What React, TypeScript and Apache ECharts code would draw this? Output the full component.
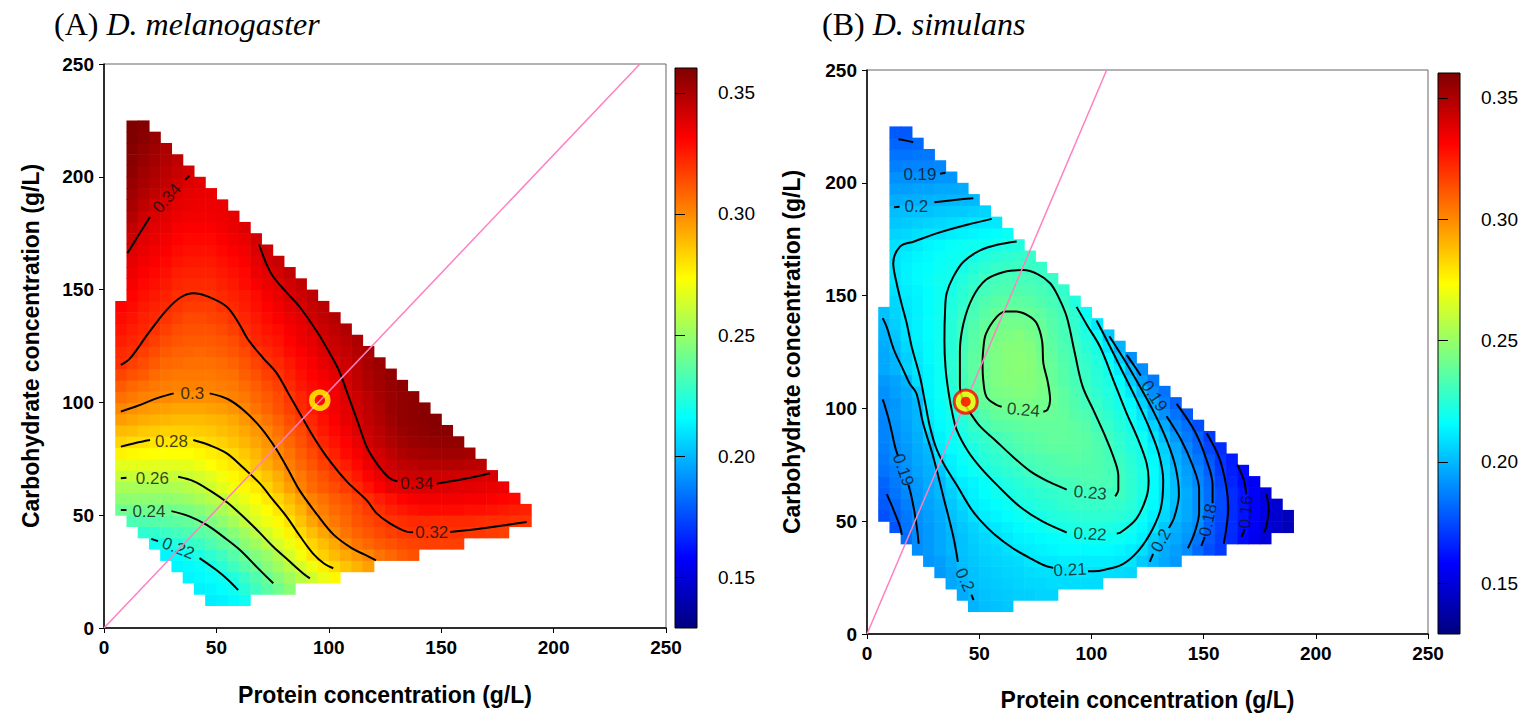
import React, { useEffect, useRef } from "react";
import * as echarts from "echarts";

// ---------------- data ----------------
// Both surfaces sampled every 5 g/L over the diet hull; values in thousandths (0.001 units)
const carbLevels = [12.5, 17.5, 22.5, 27.5, 32.5, 37.5, 42.5, 47.5, 52.5, 57.5, 62.5, 67.5, 72.5, 77.5, 82.5, 87.5, 92.5, 97.5, 102.5, 107.5, 112.5, 117.5, 122.5, 127.5, 132.5, 137.5, 142.5, 147.5, 152.5, 157.5, 162.5, 167.5, 172.5, 177.5, 182.5, 187.5, 192.5, 197.5, 202.5, 207.5, 212.5, 217.5, 222.5];
const rowFirstProtein = [47.5, 42.5, 37.5, 32.5, 27.5, 22.5, 17.5, 12.5, 7.5, 7.5, 7.5, 7.5, 7.5, 7.5, 7.5, 7.5, 7.5, 7.5, 7.5, 7.5, 7.5, 7.5, 7.5, 7.5, 7.5, 7.5, 7.5, 12.5, 12.5, 12.5, 12.5, 12.5, 12.5, 12.5, 12.5, 12.5, 12.5, 12.5, 12.5, 12.5, 12.5, 12.5, 12.5];
const proteinStep = 5;

const surfaceA = [
  [212, 213, 215, 219],
  [213, 214, 216, 219, 224, 230, 236, 241, 247],
  [214, 215, 217, 219, 223, 228, 234, 240, 246, 252, 258, 263, 269, 275],
  [214, 215, 217, 220, 225, 230, 235, 240, 246, 252, 258, 264, 270, 277, 282, 287, 291, 295],
  [214, 216, 219, 222, 226, 230, 235, 240, 245, 250, 256, 264, 271, 279, 284, 289, 293, 297, 301, 305, 308, 311, 313],
  [219, 220, 223, 226, 229, 233, 237, 240, 247, 252, 258, 264, 270, 276, 283, 288, 293, 300, 305, 308, 311, 313, 315, 316, 317, 317, 317, 317],
  [226, 227, 229, 231, 233, 236, 238, 242, 247, 252, 258, 264, 270, 276, 282, 288, 294, 300, 305, 309, 312, 315, 317, 319, 320, 320, 320, 320, 320, 319, 319, 318, 317],
  [233, 234, 235, 236, 237, 238, 240, 244, 248, 253, 259, 265, 270, 275, 280, 287, 294, 300, 304, 308, 312, 315, 318, 320, 321, 322, 322, 322, 322, 322, 322, 321, 321, 321, 320, 320],
  [240, 241, 241, 241, 241, 242, 243, 246, 250, 254, 259, 264, 269, 274, 279, 285, 291, 299, 303, 307, 310, 314, 318, 321, 324, 326, 328, 329, 329, 329, 329, 328, 328, 327, 326, 325, 324],
  [248, 248, 248, 248, 248, 249, 251, 254, 257, 260, 265, 269, 274, 278, 283, 289, 295, 302, 306, 310, 313, 317, 321, 325, 328, 331, 333, 334, 334, 334, 334, 333, 333, 332, 331, 330],
  [254, 254, 254, 254, 254, 255, 257, 259, 263, 267, 271, 275, 278, 283, 289, 295, 302, 307, 311, 314, 318, 322, 327, 332, 337, 338, 339, 339, 339, 339, 338, 338, 337, 336, 335],
  [261, 261, 261, 261, 261, 261, 262, 264, 267, 271, 275, 278, 282, 287, 292, 299, 304, 309, 313, 317, 321, 326, 331, 336, 340, 342, 343, 343, 343, 342, 342, 341, 340, 340],
  [267, 268, 268, 267, 267, 267, 268, 270, 273, 276, 279, 282, 287, 292, 297, 303, 308, 312, 317, 321, 325, 330, 335, 340, 343, 346, 347, 348, 348, 348, 348, 347, 347],
  [276, 275, 274, 273, 273, 273, 273, 275, 277, 279, 282, 286, 290, 295, 300, 305, 310, 315, 320, 324, 329, 333, 338, 342, 346, 349, 351, 352, 353, 353, 353, 352],
  [283, 281, 280, 279, 279, 279, 279, 280, 282, 284, 287, 290, 294, 298, 303, 308, 313, 318, 323, 327, 331, 336, 341, 345, 349, 352, 354, 355, 356, 356, 356],
  [289, 288, 286, 285, 284, 284, 284, 285, 286, 288, 290, 293, 297, 301, 306, 311, 315, 321, 326, 330, 334, 339, 343, 347, 351, 354, 356, 357, 358, 358],
  [296, 294, 292, 291, 290, 289, 289, 289, 290, 291, 293, 297, 301, 305, 309, 314, 319, 323, 328, 332, 337, 340, 345, 349, 353, 356, 357, 358, 359],
  [301, 299, 297, 296, 295, 294, 294, 294, 295, 296, 298, 301, 305, 309, 313, 317, 322, 326, 330, 334, 338, 342, 346, 350, 354, 356, 357, 358],
  [306, 304, 302, 301, 300, 299, 299, 299, 299, 300, 302, 304, 308, 311, 314, 319, 323, 327, 330, 334, 339, 343, 347, 351, 354, 356, 357],
  [311, 308, 306, 304, 303, 302, 302, 302, 302, 303, 304, 307, 310, 314, 317, 322, 326, 329, 332, 335, 341, 345, 349, 352, 355, 357],
  [316, 313, 311, 307, 305, 304, 304, 304, 304, 305, 306, 310, 313, 317, 320, 324, 328, 331, 334, 338, 342, 346, 350, 353, 356],
  [321, 317, 314, 311, 308, 307, 306, 306, 306, 307, 309, 312, 316, 320, 322, 326, 330, 333, 337, 340, 343, 347, 351, 354],
  [322, 321, 317, 314, 311, 309, 309, 308, 309, 310, 312, 315, 319, 322, 325, 329, 332, 335, 339, 342, 345, 348, 352],
  [325, 323, 321, 317, 314, 312, 311, 311, 311, 312, 314, 318, 323, 325, 327, 331, 335, 337, 341, 344, 347, 350],
  [327, 325, 323, 320, 317, 314, 313, 313, 313, 315, 317, 321, 324, 327, 329, 333, 336, 339, 343, 346, 349],
  [329, 327, 324, 322, 320, 317, 315, 315, 316, 317, 320, 323, 326, 329, 332, 335, 338, 342, 345, 348],
  [331, 329, 326, 324, 322, 320, 318, 318, 318, 320, 322, 325, 328, 331, 334, 338, 340, 344, 347],
  [331, 328, 326, 324, 321, 320, 320, 320, 322, 324, 326, 329, 333, 336, 340, 343, 346],
  [333, 330, 328, 326, 323, 322, 322, 322, 324, 326, 329, 332, 336, 338, 342, 345],
  [335, 332, 330, 328, 325, 324, 324, 324, 326, 328, 330, 335, 338, 341, 345],
  [337, 334, 332, 330, 327, 326, 326, 326, 328, 330, 332, 337, 341, 344],
  [339, 336, 334, 332, 329, 328, 328, 328, 330, 332, 334, 339, 343],
  [342, 338, 336, 334, 331, 330, 330, 330, 332, 334, 336, 341],
  [345, 340, 338, 336, 333, 332, 332, 332, 334, 336, 339],
  [348, 343, 340, 338, 335, 334, 334, 334, 335, 337],
  [351, 346, 342, 340, 337, 336, 335, 335, 336],
  [353, 349, 345, 342, 339, 337, 336, 336],
  [355, 351, 348, 345, 342, 339, 338],
  [357, 353, 350, 347, 344, 341],
  [358, 355, 352, 349, 346],
  [359, 356, 353, 350],
  [360, 358, 355],
  [360, 359],
];

const surfaceB = [
  [199, 201, 202, 203],
  [197, 200, 202, 203, 204, 205, 205, 206, 206],
  [196, 199, 202, 203, 204, 205, 206, 207, 207, 208, 208, 208, 208, 208],
  [193, 196, 200, 202, 204, 205, 206, 207, 208, 209, 209, 209, 210, 210, 209, 209, 208, 207],
  [192, 194, 198, 201, 203, 205, 206, 207, 208, 210, 211, 211, 212, 212, 212, 212, 212, 211, 210, 204, 200, 196, 193],
  [190, 193, 196, 199, 202, 204, 206, 207, 209, 211, 212, 213, 214, 215, 215, 215, 215, 215, 214, 212, 209, 202, 197, 194, 190, 182, 176, 171],
  [183, 190, 193, 196, 199, 202, 205, 207, 209, 211, 213, 214, 215, 216, 217, 218, 219, 219, 219, 218, 216, 213, 205, 199, 196, 192, 185, 178, 172, 167, 160, 154, 149],
  [177, 184, 190, 193, 196, 200, 203, 206, 209, 211, 213, 215, 217, 218, 220, 221, 222, 223, 223, 222, 221, 219, 215, 210, 203, 198, 194, 190, 179, 173, 168, 161, 156, 150, 146, 142],
  [176, 180, 185, 191, 194, 197, 202, 205, 209, 212, 214, 216, 218, 220, 221, 223, 224, 225, 226, 226, 226, 225, 223, 218, 213, 207, 200, 196, 191, 181, 174, 168, 162, 157, 152, 147, 143],
  [178, 182, 187, 192, 195, 198, 203, 207, 212, 214, 216, 218, 221, 222, 224, 225, 227, 228, 228, 228, 228, 227, 225, 221, 215, 209, 201, 196, 191, 183, 175, 168, 162, 158, 152, 148],
  [179, 184, 189, 192, 196, 200, 205, 210, 213, 216, 219, 221, 223, 224, 226, 227, 228, 229, 230, 230, 230, 230, 226, 222, 216, 208, 202, 197, 191, 183, 175, 168, 162, 157, 151],
  [181, 186, 190, 193, 197, 200, 207, 212, 214, 217, 220, 223, 225, 227, 228, 230, 231, 232, 233, 233, 232, 230, 226, 222, 216, 209, 201, 195, 189, 182, 173, 166, 160, 156],
  [184, 187, 191, 195, 198, 203, 212, 215, 218, 221, 224, 226, 228, 230, 232, 233, 234, 234, 234, 234, 232, 230, 226, 222, 216, 208, 200, 194, 188, 180, 171, 165, 160],
  [186, 189, 192, 196, 199, 208, 213, 217, 220, 224, 226, 228, 231, 232, 233, 234, 235, 236, 235, 234, 232, 229, 225, 221, 215, 207, 198, 192, 185, 178, 170, 164],
  [187, 190, 193, 197, 200, 212, 216, 219, 222, 226, 228, 231, 233, 235, 236, 237, 237, 237, 236, 234, 231, 227, 223, 220, 213, 205, 196, 189, 182, 174, 168],
  [188, 191, 194, 198, 204, 213, 217, 221, 225, 228, 231, 233, 235, 236, 237, 238, 238, 237, 236, 233, 230, 226, 222, 218, 210, 201, 193, 186, 180, 171],
  [188, 192, 195, 199, 210, 215, 218, 223, 228, 232, 235, 236, 237, 238, 238, 238, 238, 237, 235, 231, 228, 224, 220, 214, 206, 197, 188, 183, 176],
  [189, 193, 196, 199, 212, 216, 220, 226, 231, 235, 238, 239, 240, 240, 240, 239, 238, 235, 233, 230, 226, 222, 218, 211, 200, 191, 184, 178],
  [190, 192, 196, 200, 213, 217, 221, 229, 234, 238, 241, 242, 243, 243, 242, 240, 237, 234, 231, 228, 224, 220, 215, 206, 196, 187, 180],
  [191, 194, 197, 203, 214, 218, 223, 231, 236, 240, 243, 244, 245, 245, 243, 240, 237, 233, 230, 226, 223, 219, 211, 201, 190, 184],
  [193, 195, 199, 208, 214, 218, 225, 231, 236, 241, 244, 246, 246, 246, 244, 239, 235, 232, 229, 225, 222, 216, 205, 194, 186],
  [196, 199, 206, 210, 214, 218, 225, 232, 237, 241, 244, 246, 247, 246, 243, 239, 235, 231, 228, 224, 220, 212, 200, 190],
  [196, 199, 205, 211, 215, 219, 225, 232, 237, 241, 244, 246, 247, 246, 242, 238, 234, 231, 227, 223, 216, 205, 191],
  [197, 201, 207, 212, 215, 219, 224, 231, 236, 240, 244, 246, 246, 245, 241, 237, 233, 230, 225, 221, 211, 199],
  [199, 203, 209, 213, 216, 219, 224, 230, 235, 240, 243, 244, 245, 243, 240, 236, 232, 228, 223, 218, 204],
  [200, 205, 210, 213, 216, 219, 224, 230, 234, 238, 241, 242, 242, 241, 239, 235, 232, 227, 221, 211],
  [202, 206, 210, 213, 216, 219, 223, 228, 232, 236, 239, 240, 240, 239, 237, 234, 231, 226, 217],
  [207, 211, 213, 216, 219, 222, 226, 231, 234, 236, 237, 237, 236, 234, 232, 229, 223],
  [209, 212, 214, 216, 219, 221, 225, 228, 231, 233, 234, 234, 233, 232, 230, 227],
  [210, 213, 215, 217, 219, 220, 223, 226, 230, 231, 232, 232, 231, 230, 228],
  [210, 213, 215, 216, 218, 219, 220, 224, 226, 228, 229, 230, 229, 228],
  [210, 212, 214, 215, 217, 218, 219, 220, 223, 225, 226, 227, 228],
  [209, 210, 212, 214, 215, 217, 218, 219, 219, 220, 222, 223],
  [206, 207, 209, 210, 210, 212, 213, 214, 215, 216, 218],
  [203, 204, 205, 206, 207, 208, 209, 210, 211, 211],
  [201, 201, 202, 202, 203, 204, 204, 205, 206],
  [197, 198, 198, 199, 199, 200, 200, 200],
  [194, 194, 195, 195, 196, 196, 197],
  [191, 191, 191, 191, 192, 192],
  [187, 188, 188, 188, 189],
  [184, 184, 185, 185],
  [181, 181, 182],
  [178, 178],
];

// contour polylines (each contour = list of segments, gaps hold labels)
const contoursA = [
  [[[21, 39.5], [24, 38.5]], [[42.5, 31], [50, 25.7], [55, 21.5], [59.7, 16.8]]],
  [[[7.5, 52.3], [10, 52.3]], [[30, 51.8], [38, 49.5], [45.7, 45.7], [53, 40.5], [60.5, 34.6], [68, 27], [75.3, 19.8]]],
  [[[7.5, 66.4], [10, 66.6]], [[33, 67], [40, 65], [47, 61], [55, 55.5], [62, 49.3], [69, 42.5], [75.3, 36], [82, 30], [88.6, 24.2], [91.6, 22]]],
  [[[7.5, 80.4], [14, 82], [20.5, 83.3]], [[39.7, 83.3], [47, 81], [54.6, 77.4], [62, 71], [69.4, 64], [75, 57], [81.3, 49.3], [87, 41], [93, 33], [98, 28.5], [102, 26.5]]],
  [[[7.5, 95.9], [15, 98.5], [24, 102], [31, 104]], [[47, 104], [55, 101.5], [62, 96.6], [70, 88.5], [76.8, 79], [82, 70], [87, 61], [95, 50], [102, 41.5], [110, 35.5], [116, 32.5], [121, 30]]],
  [[[7.5, 116.6], [11.6, 119.5], [20, 131], [27.9, 141], [34, 146.5], [39.7, 148.4], [46, 147], [54.6, 142.4], [60, 135], [64, 128], [70.9, 119.5], [76.8, 113], [82, 104], [87.2, 95], [93, 85], [99, 76], [108, 65], [116.8, 56.7], [121.3, 50.8], [127, 46.5], [134.6, 42.7], [137.5, 42.4]], [[154, 42.6], [167, 44], [179, 45.7], [188, 47]]],
  [[[10.4, 166.1], [15, 173.5], [20.5, 182.3]], [[36, 198.6], [38, 200.5]]],
  [[[69, 170], [72, 162], [75.3, 155.7], [81, 149], [87, 142.4], [95, 131], [102, 119], [105, 113], [109, 102], [113, 91], [117, 80], [122, 72], [127, 66.5], [130.5, 65]], [[148, 64], [160, 66], [171.7, 68.6]]],
];
const labelTextA = ["0.34", "0.3", "0.28", "0.26", "0.24", "0.22", "0.34", "0.32"];
const labelPosA = [[28, 190.5], [39.3, 103.8], [30, 82.6], [21.5, 66.4], [20, 51.5], [33, 35.3], [139.2, 64], [145.8, 42.4]];
const labelAngleA = [48, 0, 0, 0, 0, -22, 0, 0];

const contoursB = [
  // 0.24
  [[[60, 100.7], [57.8, 101.5], [53.3, 105], [51.8, 112.6], [51.5, 120], [51.8, 126], [53, 133], [57.8, 140.6], [62, 143], [66.7, 142.9], [72, 141], [75.6, 137.7], [78, 130], [78.6, 120], [80.5, 112], [81.6, 103.7], [80.5, 99.5], [78.6, 98.5]]],
  // 0.23
  [[[110.6, 61], [112, 64], [112, 70], [110, 78], [106, 88], [101, 99], [96, 110], [92.5, 125], [89, 140.6], [85, 150], [81.6, 155.5], [76, 159.5], [69.7, 161.3], [61, 160.5], [53, 157], [47, 149], [43, 137.7], [41.4, 125], [41.4, 110], [43, 103], [46, 98], [50.4, 92], [57, 86], [65, 78.6], [73, 72], [81, 67.5], [89, 64]]],
  // 0.22
  [[[66.7, 174], [58, 172.5], [50.4, 170], [43, 165], [38.5, 158.4], [35.5, 151], [34.8, 143.6], [34.5, 130], [35, 118], [36.2, 108], [38, 98], [40, 90.4], [45, 81], [50.4, 74], [58, 66], [68.2, 56.4], [78, 50], [89, 45]],
   [[111.3, 44.6], [113, 45], [120, 51], [124.6, 60.9], [125.5, 68], [124.6, 75.7], [120.5, 87], [115.7, 97.8], [110, 112], [104, 127], [98, 137], [93.4, 145]]],
  // 0.21
  [[[55.6, 184], [45, 181.5], [31, 177.6], [21, 174], [14.7, 171.7], [11.7, 164.3], [13.2, 155.5], [15.5, 146], [17.7, 137.7], [20, 127], [23.6, 114], [26, 102], [28, 92], [31, 82], [35, 74], [40, 66], [46, 56], [50.4, 50.5], [57, 44], [65, 38], [72, 34], [78.6, 30.6], [83, 29.3]],
   [[98.5, 27.8], [101, 27.8], [106, 28.5], [114, 31], [121, 37], [127, 46], [131, 56], [132, 68], [130, 80], [125.5, 92], [120, 104], [114, 116], [108, 128], [102.3, 139]]],
  // 0.2
  [[[12, 189.2], [14.5, 189.4]], [[30, 191.4], [40, 192.5], [47.4, 193.2]],
   [[7, 140], [8.8, 136], [12, 126], [16.2, 117], [19, 111], [22, 106.7], [25, 93.4], [29.5, 78.6], [34, 61], [38.5, 43], [40.5, 32]], [[46.5, 17.5], [47.5, 15]],
   [[108, 132], [115, 121], [122, 109], [128, 98], [133.5, 86], [137.5, 74], [139, 62], [137, 52], [134.5, 47]], [[127.5, 35.5], [126, 32]]],
  // 0.19
  [[[32.5, 204], [35, 204.5]],
   [[7, 104], [8, 101], [10, 94], [12.5, 83], [13.8, 79]], [[18.5, 66], [20, 60], [21.5, 52], [22.5, 45], [23, 40]],
   [[115.7, 123.7], [119, 119], [122, 114.5]], [[133.5, 96.5], [140, 86], [145, 75], [148, 64], [148, 54], [146, 45], [143, 38]]],
  // 0.18
  [[[14, 219.3], [17, 218.8], [20.6, 218]], [[8.8, 62], [11, 57], [13, 52], [14.7, 47.6], [15.5, 44]],
   [[138, 102], [146, 90], [151, 78], [154, 66], [154, 58]], [[150.5, 43], [149, 39]]],
  // 0.17
  [[[151.4, 89], [157, 78], [160, 66], [161, 56], [160, 46], [159, 40]]],
  // 0.16
  [[[165, 75], [168, 68], [169, 62]], [[168.3, 46.5], [167, 43]]],
  // 0.15
  [[[178, 62], [179, 55], [178, 48], [177, 45]]],
];
const labelTextB = ["0.19", "0.2", "0.24", "0.23", "0.22", "0.21", "0.19", "0.2", "0.19", "0.2", "0.18", "0.16"];
const labelPosB = [[23.6, 203.5], [22, 189.6], [69.7, 99.3], [99.5, 62.5], [99.4, 44.3], [90.5, 28.4], [16.2, 72.7], [43.5, 24], [128, 105.5], [131, 41.5], [152, 50.5], [169, 54]];
const labelAngleB = [0, 0, -5, -5, -3, 3, -70, -65, -57, 62, 78, 85];

const optimumA = [96, 101];
const optimumB = [44, 103];
const railA = [[0, 0], [238.4, 250]];
const railB = [[0, 0], [106.8, 250]];

const colorTicks = [0.15, 0.2, 0.25, 0.3, 0.35];
const colorMin = 0.129;
const colorMax = 0.3603;
const jet = ["#00007f", "#0000ff", "#007fff", "#00ffff", "#7fff7f", "#ffff00", "#ff7f00", "#ff0000", "#7f0000"];

// ---------------- helpers ----------------
function cells(surface: number[][]) {
  const out: number[][] = [];
  surface.forEach((row, i) => {
    row.forEach((v, k) => out.push([rowFirstProtein[i] + k * proteinStep, carbLevels[i], v / 1000]));
  });
  return out;
}

const SANS = "Arial, 'Liberation Sans', Helvetica, sans-serif";
const SERIF = "'Times New Roman', 'Liberation Serif', serif";

function panelSeries(g: number, surface: number[][], contours: number[][][][], texts: string[], pos: number[][], ang: number[], rail: number[][], opt: number[], ringB: boolean) {
  const s: any[] = [];
  const half = proteinStep / 2;
  s.push({
    type: "custom",
    xAxisIndex: g,
    yAxisIndex: g,
    silent: true,
    z: 1,
    clip: true,
    encode: { x: 0, y: 1 },
    data: cells(surface),
    renderItem: (params: any, api: any) => {
      const p = api.coord([api.value(0) - half, api.value(1) + half]);
      const sz = api.size([proteinStep, proteinStep]);
      return {
        type: "rect",
        shape: { x: p[0], y: p[1], width: sz[0] + 0.6, height: sz[1] + 0.6 },
        style: { fill: api.visual("color") },
      };
    },
  });
  contours.forEach((c) =>
    c.forEach((seg) =>
      s.push({
        type: "line",
        xAxisIndex: g,
        yAxisIndex: g,
        data: seg,
        smooth: 0.35,
        symbol: "none",
        silent: true,
        z: 3,
        lineStyle: { color: "#000", width: 2 },
      })
    )
  );
  s.push({
    type: "scatter",
    xAxisIndex: g,
    yAxisIndex: g,
    silent: true,
    z: 4,
    symbolSize: 1,
    itemStyle: { color: "rgba(0,0,0,0)" },
    data: texts.map((t, i) => ({ name: t, value: pos[i], label: { rotate: ang[i] } })),
    label: {
      show: true,
      position: "inside",
      formatter: (p: any) => p.name,
      fontSize: 17,
      color: "#111",
      fontFamily: SANS,
    },
  });
  s.push({
    type: "line",
    xAxisIndex: g,
    yAxisIndex: g,
    data: rail,
    symbol: "none",
    silent: true,
    z: 5,
    lineStyle: { color: "#ff80c0", width: 1.5 },
  });
  if (ringB) {
    s.push({
      type: "scatter", xAxisIndex: g, yAxisIndex: g, silent: true, z: 6, data: [opt], symbolSize: 23,
      itemStyle: { color: "#ffff00", borderColor: "#ff0000", borderWidth: 3 },
    });
    s.push({
      type: "scatter", xAxisIndex: g, yAxisIndex: g, silent: true, z: 7, data: [opt], symbolSize: 10,
      itemStyle: { color: "#ff0000" },
    });
  } else {
    s.push({
      type: "scatter", xAxisIndex: g, yAxisIndex: g, silent: true, z: 6, data: [opt], symbolSize: 16,
      itemStyle: { color: "rgba(0,0,0,0)", borderColor: "#ffff00", borderWidth: 5.5 },
    });
  }
  return s;
}

function mainAxis(g: number, gap: number, name: string) {
  return {
    type: "value",
    gridIndex: g,
    min: 0,
    max: 250,
    interval: 50,
    name,
    nameLocation: "middle",
    nameGap: gap,
    nameTextStyle: { fontFamily: SANS, fontWeight: "bold", fontSize: 23, color: "#000" },
    axisLine: { show: true, lineStyle: { color: "#000", width: 1.5 } },
    axisTick: { show: true, inside: false, length: 5, lineStyle: { color: "#000" } },
    axisLabel: { fontFamily: SANS, fontWeight: "bold", fontSize: 19, color: "#000", margin: 10 },
    splitLine: { show: false },
  };
}
function barX(g: number) {
  return { type: "value", gridIndex: g, min: 0, max: 1, show: false };
}
function barY(g: number) {
  return {
    type: "value",
    gridIndex: g,
    position: "right",
    min: colorMin,
    max: colorMax,
    axisLine: { show: false },
    axisTick: { show: true, length: 10, customValues: colorTicks, lineStyle: { color: "#000" } },
    axisLabel: {
      customValues: colorTicks,
      formatter: (v: number) => v.toFixed(2),
      fontFamily: SANS,
      fontSize: 19,
      color: "#000",
      margin: 21,
    },
    splitLine: { show: false },
  };
}

const gradient = {
  type: "linear",
  x: 0,
  y: 1,
  x2: 0,
  y2: 0,
  colorStops: jet.map((c, i) => ({ offset: i / (jet.length - 1), color: c })),
};

function titleRich() {
  return {
    n: { fontFamily: SERIF, fontSize: 32, fontWeight: "normal", color: "#000" },
    i: { fontFamily: SERIF, fontSize: 32, fontWeight: "normal", fontStyle: "italic", color: "#000" },
  };
}

export default function App() {
  const ref = useRef<HTMLDivElement>(null);
  useEffect(() => {
    document.body.style.margin = "0";
    if (!ref.current) return;
    const chart = echarts.init(ref.current, undefined, { renderer: "svg" });
    const seriesA = panelSeries(0, surfaceA, contoursA, labelTextA, labelPosA, labelAngleA, railA, optimumA, false);
    const seriesB = panelSeries(1, surfaceB, contoursB, labelTextB, labelPosB, labelAngleB, railB, optimumB, true);
    const idxB = seriesA.length;
    const option: any = {
      animation: false,
      backgroundColor: "#fff",
      title: [
        { text: "{n|(A) }{i|D. melanogaster}", left: 49, top: 3, textStyle: { fontWeight: "normal", rich: titleRich() } },
        { text: "{n|(B) }{i|D. simulans}", left: 817, top: 3, textStyle: { fontWeight: "normal", rich: titleRich() } },
      ],
      grid: [
        { left: 104, top: 64, width: 562, height: 564, show: true, borderColor: "#666", borderWidth: 1, backgroundColor: "#fff" },
        { left: 867, top: 70, width: 561, height: 564, show: true, borderColor: "#666", borderWidth: 1, backgroundColor: "#fff" },
        { left: 675, top: 68, width: 22, height: 560, show: true, borderColor: "#000", borderWidth: 1, backgroundColor: gradient },
        { left: 1438, top: 73, width: 22, height: 561, show: true, borderColor: "#000", borderWidth: 1, backgroundColor: gradient },
      ],
      xAxis: [
        mainAxis(0, 55, "Protein concentration (g/L)"),
        mainAxis(1, 54, "Protein concentration (g/L)"),
        barX(2),
        barX(3),
      ],
      yAxis: [
        mainAxis(0, 62, "Carbohydrate concentration (g/L)"),
        mainAxis(1, 64, "Carbohydrate concentration (g/L)"),
        barY(2),
        barY(3),
      ],
      visualMap: [
        {
          type: "continuous",
          show: false,
          min: colorMin,
          max: colorMax,
          dimension: 2,
          seriesIndex: [0, idxB],
          inRange: { color: jet },
        },
      ],
      series: [...seriesA, ...seriesB],
    };
    chart.setOption(option);
    return () => chart.dispose();
  }, []);
  return <div ref={ref} style={{ width: 1535, height: 718 }} />;
}
